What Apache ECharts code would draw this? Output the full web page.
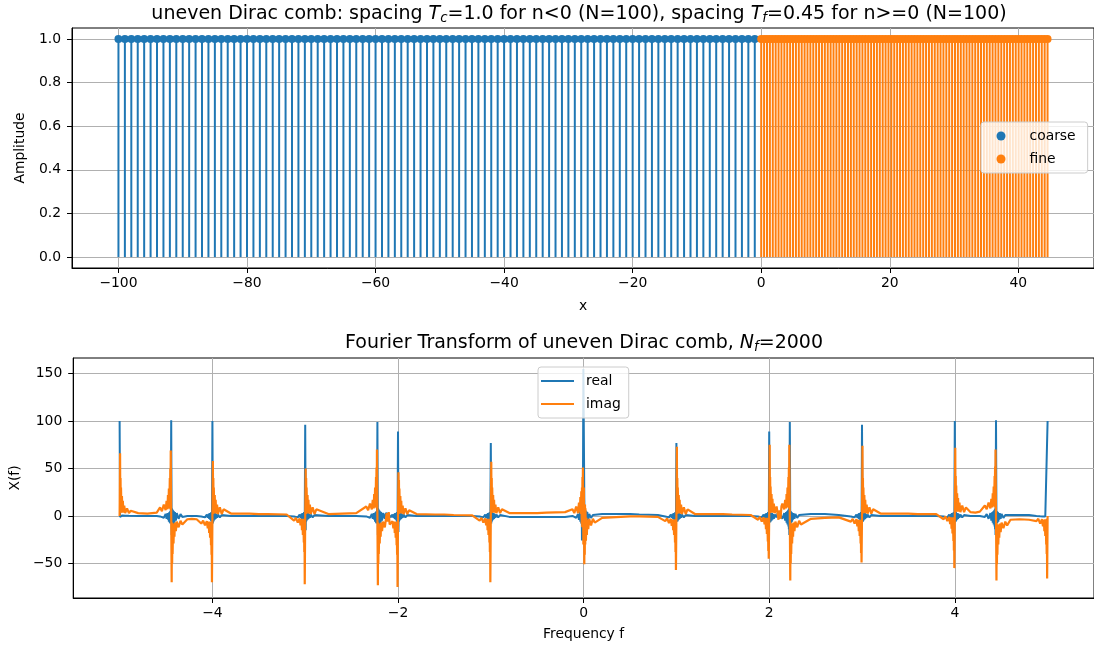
<!DOCTYPE html>
<html>
<head>
<meta charset="utf-8">
<script src="https://cdn.jsdelivr.net/npm/echarts@6.0.0/dist/echarts.min.js"></script>
<style>
html, body { margin: 0; padding: 0; background: #fff; }
#chart { width: 1094px; height: 651px; }
</style>
</head>
<body>
<div id="chart"></div>
<script>
// ---- uneven Dirac comb: coarse part (n < 0, spacing 1.0) ----
const coarseX = [
  -100,-99,-98,-97,-96,-95,-94,-93,-92,-91,
  -90,-89,-88,-87,-86,-85,-84,-83,-82,-81,
  -80,-79,-78,-77,-76,-75,-74,-73,-72,-71,
  -70,-69,-68,-67,-66,-65,-64,-63,-62,-61,
  -60,-59,-58,-57,-56,-55,-54,-53,-52,-51,
  -50,-49,-48,-47,-46,-45,-44,-43,-42,-41,
  -40,-39,-38,-37,-36,-35,-34,-33,-32,-31,
  -30,-29,-28,-27,-26,-25,-24,-23,-22,-21,
  -20,-19,-18,-17,-16,-15,-14,-13,-12,-11,
  -10,-9,-8,-7,-6,-5,-4,-3,-2,-1
];
const coarseAmp = [
  1,1,1,1,1,1,1,1,1,1, 1,1,1,1,1,1,1,1,1,1,
  1,1,1,1,1,1,1,1,1,1, 1,1,1,1,1,1,1,1,1,1,
  1,1,1,1,1,1,1,1,1,1, 1,1,1,1,1,1,1,1,1,1,
  1,1,1,1,1,1,1,1,1,1, 1,1,1,1,1,1,1,1,1,1,
  1,1,1,1,1,1,1,1,1,1, 1,1,1,1,1,1,1,1,1,1
];

// ---- fine part (n >= 0, spacing 0.45) ----
const fineX = [
  0, 0.45, 0.9, 1.35, 1.8, 2.25, 2.7, 3.15, 3.6, 4.05,
  4.5, 4.95, 5.4, 5.85, 6.3, 6.75, 7.2, 7.65, 8.1, 8.55,
  9, 9.45, 9.9, 10.35, 10.8, 11.25, 11.7, 12.15, 12.6, 13.05,
  13.5, 13.95, 14.4, 14.85, 15.3, 15.75, 16.2, 16.65, 17.1, 17.55,
  18, 18.45, 18.9, 19.35, 19.8, 20.25, 20.7, 21.15, 21.6, 22.05,
  22.5, 22.95, 23.4, 23.85, 24.3, 24.75, 25.2, 25.65, 26.1, 26.55,
  27, 27.45, 27.9, 28.35, 28.8, 29.25, 29.7, 30.15, 30.6, 31.05,
  31.5, 31.95, 32.4, 32.85, 33.3, 33.75, 34.2, 34.65, 35.1, 35.55,
  36, 36.45, 36.9, 37.35, 37.8, 38.25, 38.7, 39.15, 39.6, 40.05,
  40.5, 40.95, 41.4, 41.85, 42.3, 42.75, 43.2, 43.65, 44.1, 44.55
];
const fineAmp = [
  1,1,1,1,1,1,1,1,1,1, 1,1,1,1,1,1,1,1,1,1,
  1,1,1,1,1,1,1,1,1,1, 1,1,1,1,1,1,1,1,1,1,
  1,1,1,1,1,1,1,1,1,1, 1,1,1,1,1,1,1,1,1,1,
  1,1,1,1,1,1,1,1,1,1, 1,1,1,1,1,1,1,1,1,1,
  1,1,1,1,1,1,1,1,1,1, 1,1,1,1,1,1,1,1,1,1
];

// ---- tick labels ----
const combXTicks = [-100, -80, -60, -40, -20, 0, 20, 40];
const combYTicks = [0, 0.2, 0.4, 0.6, 0.8, 1.0];
const freqTicks = [-4, -2, 0, 2, 4];
const spectrumTicks = [-50, 0, 50, 100, 150];

// ---- spectrum X(f): frequency, real part, imaginary part (one line per peak / gap) ----
const freq = [
  -5, -4.995, -4.9925, -4.99, -4.9875, -4.985, -4.98, -4.975, -4.97, -4.965, -4.96, -4.95, -4.94, -4.92, -4.9, -4.88,
  -4.8, -4.7, -4.6,
  -4.564, -4.544, -4.524, -4.504, -4.494, -4.484, -4.479, -4.474, -4.469, -4.464, -4.459, -4.4565, -4.454, -4.4515, -4.449, -4.444, -4.439, -4.4365, -4.434, -4.4315, -4.429, -4.424, -4.419, -4.414, -4.409, -4.404, -4.394, -4.384, -4.364, -4.344, -4.324,
  -4.27, -4.222, -4.17,
  -4.12, -4.1, -4.08, -4.06, -4.05, -4.04, -4.035, -4.03, -4.025, -4.02, -4.015, -4.0125, -4.01, -4.0075, -4.005, -4, -3.995, -3.9925, -3.99, -3.9875, -3.985, -3.98, -3.975, -3.97, -3.965, -3.96, -3.95, -3.94, -3.92, -3.9, -3.88,
  -3.8, -3.6, -3.5, -3.4, -3.2,
  -3.12, -3.1, -3.08, -3.06, -3.05, -3.04, -3.035, -3.03, -3.025, -3.02, -3.015, -3.0125, -3.01, -3.0075, -3.005, -3, -2.995, -2.9925, -2.99, -2.9875, -2.985, -2.98, -2.975, -2.97, -2.965, -2.96, -2.95, -2.94, -2.92, -2.9, -2.88,
  -2.75, -2.6, -2.45,
  -2.342, -2.322, -2.302, -2.282, -2.272, -2.262, -2.257, -2.252, -2.247, -2.242, -2.237, -2.2345, -2.232, -2.2295, -2.227, -2.222, -2.217, -2.2145, -2.212, -2.2095, -2.207, -2.202, -2.197, -2.192, -2.187, -2.182, -2.172, -2.162, -2.142,
  -2.132, -2.122, -2.111, -2.1, -2.09,
  -2.08, -2.06, -2.05, -2.04, -2.035, -2.03, -2.025, -2.02, -2.015, -2.0125, -2.01, -2.0075, -2.005, -2, -1.995, -1.9925, -1.99, -1.9875, -1.985, -1.98, -1.975, -1.97, -1.965, -1.96, -1.95, -1.94, -1.92, -1.9, -1.88,
  -1.8, -1.6, -1.5, -1.4, -1.2,
  -1.12, -1.1, -1.08, -1.06, -1.05, -1.04, -1.035, -1.03, -1.025, -1.02, -1.015, -1.0125, -1.01, -1.0075, -1.005, -1, -0.995, -0.9925, -0.99, -0.9875, -0.985, -0.98, -0.975, -0.97, -0.965, -0.96, -0.95, -0.94, -0.92, -0.9, -0.88,
  -0.8, -0.6, -0.5, -0.4, -0.2,
  -0.12, -0.1, -0.08, -0.06, -0.05, -0.04, -0.035, -0.03, -0.025, -0.02, -0.0175, -0.015, -0.0125, -0.01, -0.0075, -0.0025, 0.0025, 0.0075, 0.01, 0.0125, 0.015, 0.0175, 0.02, 0.025, 0.03, 0.035, 0.04, 0.05, 0.06, 0.08, 0.1, 0.12,
  0.2, 0.4, 0.5, 0.6, 0.8,
  0.88, 0.9, 0.92, 0.94, 0.95, 0.96, 0.965, 0.97, 0.975, 0.98, 0.985, 0.9875, 0.99, 0.9925, 0.995, 1, 1.005, 1.0075, 1.01, 1.0125, 1.015, 1.02, 1.025, 1.03, 1.035, 1.04, 1.05, 1.06, 1.08, 1.1, 1.12,
  1.2, 1.4, 1.5, 1.6, 1.8,
  1.88, 1.9, 1.92, 1.94, 1.95, 1.96, 1.965, 1.97, 1.975, 1.98, 1.985, 1.9875, 1.99, 1.9925, 1.995, 2, 2.005, 2.0075, 2.01, 2.0125, 2.015, 2.02, 2.025, 2.03, 2.035, 2.04, 2.05, 2.06, 2.08,
  2.09, 2.1, 2.111, 2.122, 2.132,
  2.142, 2.162, 2.172, 2.182, 2.187, 2.192, 2.197, 2.202, 2.207, 2.2095, 2.212, 2.2145, 2.217, 2.222, 2.227, 2.2295, 2.232, 2.2345, 2.237, 2.242, 2.247, 2.252, 2.257, 2.262, 2.272, 2.282, 2.302, 2.322, 2.342,
  2.45, 2.6, 2.75,
  2.88, 2.9, 2.92, 2.94, 2.95, 2.96, 2.965, 2.97, 2.975, 2.98, 2.985, 2.9875, 2.99, 2.9925, 2.995, 3, 3.005, 3.0075, 3.01, 3.0125, 3.015, 3.02, 3.025, 3.03, 3.035, 3.04, 3.05, 3.06, 3.08, 3.1, 3.12,
  3.2, 3.4, 3.5, 3.6, 3.8,
  3.88, 3.9, 3.92, 3.94, 3.95, 3.96, 3.965, 3.97, 3.975, 3.98, 3.985, 3.9875, 3.99, 3.9925, 3.995, 4, 4.005, 4.0075, 4.01, 4.0125, 4.015, 4.02, 4.025, 4.03, 4.035, 4.04, 4.05, 4.06, 4.08, 4.1, 4.12,
  4.17, 4.222, 4.27,
  4.324, 4.344, 4.364, 4.384, 4.394, 4.404, 4.409, 4.414, 4.419, 4.424, 4.429, 4.4315, 4.434, 4.4365, 4.439, 4.444, 4.449, 4.4515, 4.454, 4.4565, 4.459, 4.464, 4.469, 4.474, 4.479, 4.484, 4.494, 4.504, 4.524, 4.544, 4.564,
  4.6, 4.7, 4.8,
  4.88, 4.9, 4.92, 4.94, 4.95, 4.96, 4.965, 4.97, 4.975, 4.98, 4.985, 4.9875, 4.99, 4.9925, 4.995, 5
];
const realPart = [
  100, -1, 0.5, -1, 0.5, -1, 0.5, -0.5, 0.5, -0.5, 0.5, -0.5, 0.3, -0.3, 0.2, 0,
  0, 0, 0,
  -0.5, 1, -2, 2, -3, 3, -4, 3, -6, 4, -7, 5, -8, 5, -5, 101, -20, 8, -14, 7, -11, 6, -9, 5, -7, 4, -5, 3, -3, 2, -1,
  0, 0, 0,
  -0.5, 1, -1.5, 1.5, -2, 2, -3, 3, -4, 3, -5, 4, -6, 4, -6, 100, -8, 4, -6, 4, -5, 3, -4, 3, -3, 2, -2, 1.5, -1.5, 1, -0.5,
  0, 0, 0, 0, 0,
  -0.5, 1, -1.5, 1.5, -2, 2, -3, 3, -4, 3, -5, 4, -6, 4, -5, 96, -15, 4, -6, 4, -5, 3, -4, 3, -3, 2, -2, 1.5, -1.5, 1, -0.5,
  0, 0, 0,
  -0.5, 1, -2, 2, -3, 3, -4, 3, -6, 4, -7, 5, -8, 5, -5, 99, -20, 8, -14, 7, -11, 6, -9, 5, -7, 4, -5, 3, -3,
  3, 1, 4, 2, 3,
  -1.5, 1.5, -2, 2, -3, 3, -4, 3, -5, 4, -6, 4, -7, 89, -17, 4, -6, 4, -5, 3, -4, 3, -3, 2, -2, 1.5, -1.5, 1, -0.5,
  0, 0, 0, 0, 0,
  -0.5, 1, -1.5, 1.5, -2, 2, -3, 3, -4, 3, -5, 4, -6, 4, -5, 77, -8, 4, -6, 4, -5, 3, -4, 3, -3, 2, -2, 1.5, -1.5, 1, -0.5,
  -1, -1, -1, -1, -1,
  0, 1, -2, 2, -4, 4, -6, 5, -8, 6, -26, 8, 2, 6, 19, 155, 155, 19, 6, 2, 8, -26, 6, -8, 5, -6, 4, -4, 2, -2, 1, 0,
  2, 2, 2, 1.5, 1,
  -0.5, 1, -1.5, 1.5, -2, 2, -3, 3, -4, 3, -5, 4, -6, 4, -8, 77, -5, 4, -6, 4, -5, 3, -4, 3, -3, 2, -2, 1.5, -1.5, 1, -0.5,
  0, 0, 0, 0, 0,
  -0.5, 1, -1.5, 1.5, -2, 2, -3, 3, -4, 3, -5, 4, -6, 4, -17, 89, -7, 4, -7, 4, -6, 3, -5, 3, -4, 2, -3, 1.5, -1.5,
  3, 2, 4, 1, 3,
  -3, 3, -5, 4, -7, 5, -9, 6, -11, 7, -14, 8, -20, 99, -5, 5, -8, 5, -7, 4, -6, 3, -4, 3, -3, 2, -2, 1, -0.5,
  2, 2, 1,
  -0.5, 1, -1.5, 1.5, -2, 2, -3, 3, -4, 3, -5, 4, -6, 4, -15, 96, -5, 4, -6, 4, -5, 3, -4, 3, -3, 2, -2, 1.5, -1.5, 1, -0.5,
  0, 0, 0, 0, 0,
  -0.5, 1, -1.5, 1.5, -2, 2, -3, 3, -4, 3, -5, 4, -6, 4, -8, 100, -6, 4, -6, 4, -5, 3, -4, 3, -3, 2, -2, 1.5, -1.5, 1, -0.5,
  0, 0, 0,
  -1, 2, -3, 3, -5, 4, -7, 5, -9, 6, -11, 7, -14, 8, -20, 101, -5, 5, -8, 5, -7, 4, -6, 3, -4, 3, -3, 2, -2, 1, -0.5,
  1, 1, 1,
  0, 0.2, -0.3, 0.3, -0.5, 0.5, -0.5, 0.5, -0.5, 0.5, -1, 0.5, -1, 0.5, -1, 100
];
const imagPart = [
  0, 66, 3, 40, 4, 30, 4, 21, 3.5, 16, 3.5, 11, 3, 8, 3, 5.5,
  3, 2.5, 3.5,
  9, 5, 12, 6, 16, 7, 22, 8, 29, 9, 40, 8, 50, 7, 69, 0, -70, -7, -50, -8, -40, -9, -29, -8, -22, -7, -16, -6, -12, -5, -9,
  -3.5, -3, -3.5,
  -8, -5, -10, -5.5, -13, -6, -18, -6, -23, -7, -31, -7, -41, -6, -70, 0, 58, 2, 40, 3, 30, 3, 22, 2.5, 17, 2.5, 12, 2, 9, 2, 7,
  2.5, 2.5, 2, 2, 1.5,
  -5, -2, -7, -2.5, -10, -3, -15, -3, -20, -4, -28, -4, -38, -3, -72, 0, 50, 2, 40, 3, 30, 3, 22, 2.5, 17, 2.5, 12, 2, 9, 2, 7,
  2, 2.5, 3,
  10, 6, 13, 7, 17, 8, 23, 9, 30, 10, 41, 9, 51, 8, 70, 0, -73, -7, -50, -8, -40, -9, -29, -8, -22, -7, -16, -6, -12,
  -10, 3, -6, 4, -9,
  -10, -5.5, -13, -6, -18, -6, -23, -7, -31, -7, -41, -6, -75, 0, 46, 2, 38, 3, 29, 3, 21, 2.5, 16, 2.5, 11, 2, 8, 2, 6,
  2, 1.5, 1.5, 1, 0.5,
  -5, -2, -7, -2.5, -10, -3, -15, -3, -20, -4, -28, -4, -38, -3, -70, 0, 57, 3, 40, 4, 30, 4, 22, 3.5, 17, 3.5, 12, 3, 9, 3, 7,
  3, 3, 3, 3.5, 4,
  7, 3, 10, 3, 14, 4, 20, 2, 26, -8, 30, -12, 41, -5, 51, -30, 30, -51, 5, -41, 12, -30, 8, -26, -2, -20, -4, -14, -3, -10, -3, -7,
  -2, -1, -0.5, -0.5, -1,
  -5.5, -2.5, -7.5, -3, -10.5, -3.5, -15, -3.5, -20, -4.5, -28, -4.5, -38, -3.5, -57, 0, 73, 2, 40, 3, 30, 3, 22, 2.5, 17, 2.5, 12, 2, 9, 2, 7,
  2, 2, 2, 1.5, 1,
  -4, -1, -6, -1.5, -9, -2, -14, -2, -19, -3, -27, -3, -37, -2, -45, 0, 75, 3, 41, 4, 31, 4, 23, 3.5, 18, 3.5, 13, 3, 10,
  9, -4, 6, -3, 10,
  13, 7, 17, 8, 23, 9, 30, 10, 41, 9, 51, 8, 75, 0, -68, -7, -50, -8, -40, -9, -29, -8, -22, -7, -16, -6, -12, -5, -9,
  -3, -2, -1.5,
  -6, -3, -8, -3.5, -11, -4, -16, -4, -21, -5, -29, -5, -39, -4, -49, 0, 74, 2.5, 40, 3.5, 30, 3.5, 22, 3, 17, 3, 12, 2.5, 9, 2.5, 7,
  2.5, 2.5, 2.5, 2, 2,
  -3.5, -0.5, -5.5, -1, -8.5, -1.5, -13.5, -1.5, -18.5, -2.5, -26.5, -2.5, -36.5, -1.5, -55, 0, 72, 4, 42, 5, 32, 5, 24, 4.5, 19, 4.5, 14, 4, 11, 4, 9,
  4, 3.5, 4.5,
  11, 7, 14, 8, 18, 9, 24, 10, 31, 11, 42, 10, 52, 9, 70, 0, -68, -8, -51, -9, -41, -10, -30, -9, -23, -8, -17, -7, -13, -6, -10,
  -4, -3.5, -4,
  -5.5, -3, -8, -3.5, -11, -4, -16, -3.5, -21, -3.5, -30, -4, -40, -3, -66, 0
];

// ---- styling ----
const FONT = 'DejaVu Sans';
const BLUE = '#1f77b4';
const ORANGE = '#ff7f0e';
const LABEL_PX = 13.9;
const TITLE_PX = 19;
const SUB_PX = 13.3;

const pairs = (xs, ys) => xs.map((x, i) => [x, ys[i]]);
const withMinus = v => String(v).replace('-', '\u2212');
const oneDecimal = v => v.toFixed(1);

function makeAxis(gridIndex, min, max, ticks, fmt, name, nameGap, margin) {
  return {
    type: 'value', gridIndex, min, max,
    name, nameGap, nameLocation: 'middle',
    nameTextStyle: { color: '#000', fontSize: LABEL_PX, fontFamily: FONT },
    axisLine: { show: true, onZero: false, lineStyle: { color: '#000', width: 1 } },
    axisTick: { show: true, customValues: ticks, length: 5, lineStyle: { color: '#000', width: 1 } },
    axisLabel: { customValues: ticks, formatter: fmt, color: '#000', fontSize: LABEL_PX, fontFamily: FONT, margin },
    splitLine: { show: true, lineStyle: { color: '#b0b0b0', width: 1 } },
    minorTick: { show: false }
  };
}

const titleRich = {
  n: { fontSize: TITLE_PX, fontFamily: FONT, fontWeight: 'normal', color: '#000', lineHeight: 22 },
  i: { fontSize: TITLE_PX, fontFamily: FONT, fontWeight: 'normal', color: '#000', fontStyle: 'italic', lineHeight: 22 },
  s: { fontSize: SUB_PX, fontFamily: FONT, fontWeight: 'normal', color: '#000', fontStyle: 'italic', lineHeight: 13, verticalAlign: 'bottom' }
};

const legendFrame = {
  orient: 'vertical',
  backgroundColor: 'rgba(255,255,255,0.8)',
  borderColor: '#cccccc',
  borderWidth: 1,
  borderRadius: 3,
  itemGap: 7,
  selectedMode: false
};
const legendText = pad => ({ color: '#000', fontSize: LABEL_PX, fontFamily: FONT, lineHeight: 16, padding: [0, 0, 0, pad] });

const option = {
  animation: false,
  backgroundColor: '#fff',
  textStyle: { fontFamily: FONT },
  title: [
    {
      left: 574, top: -2, textAlign: 'center',
      text: '{n|uneven Dirac comb: spacing }{i|T}{s|c}{n|=1.0 for n<0 (N=100), spacing }{i|T}{s|f}{n|=0.45 for n>=0 (N=100)}',
      textStyle: { fontWeight: 'normal', rich: titleRich }
    },
    {
      left: 579, top: 327, textAlign: 'center',
      text: '{n|Fourier Transform of uneven Dirac comb, }{i|N}{s|f}{n|=2000}',
      textStyle: { fontWeight: 'normal', rich: titleRich }
    }
  ],
  legend: [
    Object.assign({}, legendFrame, {
      left: 981, top: 122, padding: [6, 12, 6, 15.5],
      icon: 'circle', itemWidth: 9, itemHeight: 9,
      textStyle: legendText(19),
      data: ['coarse', 'fine']
    }),
    Object.assign({}, legendFrame, {
      left: 538, top: 367, padding: [6, 8, 6, 3],
      icon: 'rect', itemWidth: 33, itemHeight: 2,
      textStyle: legendText(7),
      data: ['real', 'imag']
    })
  ],
  grid: [
    { left: 72, top: 28, width: 1024.5, height: 240, show: true, borderColor: '#000', borderWidth: 1, backgroundColor: 'transparent' },
    { left: 72, top: 358, width: 1024.5, height: 240, show: true, borderColor: '#000', borderWidth: 1, backgroundColor: 'transparent' }
  ],
  xAxis: [
    makeAxis(0, -107.2275, 51.7775, combXTicks, withMinus, 'x', 31, 8),
    makeAxis(1, -5.5, 5.5, freqTicks, withMinus, 'Frequency f', 29, 8)
  ],
  yAxis: [
    makeAxis(0, -0.05, 1.05, combYTicks, oneDecimal, 'Amplitude', 45, 11),
    makeAxis(1, -86.5, 166.5, spectrumTicks, withMinus, 'X(f)', 48, 11)
  ],
  series: [
    { type: 'bar', name: 'coarse stems', xAxisIndex: 0, yAxisIndex: 0, data: pairs(coarseX, coarseAmp),
      barWidth: 2, barGap: '-100%', itemStyle: { color: BLUE }, silent: true },
    { type: 'scatter', name: 'coarse', xAxisIndex: 0, yAxisIndex: 0, data: pairs(coarseX, coarseAmp),
      symbol: 'circle', symbolSize: 8, itemStyle: { color: BLUE, opacity: 1 }, silent: true },
    { type: 'bar', name: 'fine stems', xAxisIndex: 0, yAxisIndex: 0, data: pairs(fineX, fineAmp),
      barWidth: 2, barGap: '-100%', itemStyle: { color: ORANGE }, silent: true },
    { type: 'scatter', name: 'fine', xAxisIndex: 0, yAxisIndex: 0, data: pairs(fineX, fineAmp),
      symbol: 'circle', symbolSize: 8, itemStyle: { color: ORANGE, opacity: 1 }, silent: true },
    { type: 'line', name: 'real', xAxisIndex: 1, yAxisIndex: 1, data: pairs(freq, realPart),
      symbol: 'none', showSymbol: false, lineStyle: { color: BLUE, width: 2 }, itemStyle: { color: BLUE }, silent: true },
    { type: 'line', name: 'imag', xAxisIndex: 1, yAxisIndex: 1, data: pairs(freq, imagPart),
      symbol: 'none', showSymbol: false, lineStyle: { color: ORANGE, width: 2.2 }, itemStyle: { color: ORANGE }, silent: true }
  ]
};

const chart = echarts.init(document.getElementById('chart'), null, { renderer: 'canvas' });
chart.setOption(option);
</script>
</body>
</html>
